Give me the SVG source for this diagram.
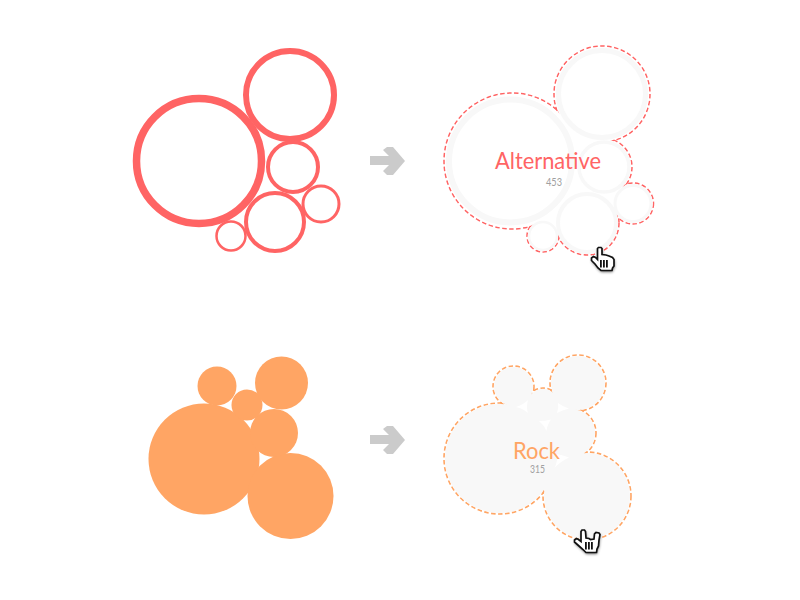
<svg xmlns="http://www.w3.org/2000/svg" width="800" height="600" viewBox="0 0 800 600">
<style>
.ring{fill:none;stroke:#ff6464}
.solid{fill:#ffa564}
.dr{fill:none;stroke:#ff6464;stroke-width:1.500;stroke-dasharray:4.500 2.500}
.do{fill:none;stroke:#ffa564;stroke-width:1.600;stroke-dasharray:4.500 2.500}
.cw{fill:#fff}
.cg{fill:#f8f8f8}
.g{fill:none;stroke:#f8f8f8}
.arrow{fill:#cbcbcb}
.t{font-family:"Lato","Open Sans","Liberation Sans",sans-serif;font-weight:400}
.n{font-size:10.500px;fill:#a0a0a0}
.hand{fill:#fff;stroke:#111;stroke-width:1.700;stroke-linejoin:miter}
.bar{fill:#111}
</style>
<defs>
<filter id="sh" x="-30%" y="-30%" width="160%" height="160%"><feGaussianBlur stdDeviation="1.500"/></filter>
<path id="h1p" d="M597.500 248.500L598.500 247.500L601 247.500L602 248.500L602 254.500L606 255L609 256L612.500 257.500L614 259.500L614 266L612.500 268L612 270.500L601 270.500L598 268L595 264L591.500 260.500L591.500 258L593.500 256.500L595.500 257.500L597.500 259.500Z"/>
<path id="h2p" d="M581 531.500L582 530L584.500 530L585.500 531.500L586 538L589 538.500L590.500 539.500L594 539L594.500 534L596 532.500L599 533L600 534.500L599 540L598.500 546L597 549L596.500 552.500L586 552.500L583 549.500L579 546L574.500 542L574.500 540L576.500 538.500L578.500 539.500L581 541.500Z"/>
</defs>

<g id="alt-before">
<circle class="ring" cx="199" cy="161" r="62.500" stroke-width="7.500"/>
<circle class="ring" cx="290" cy="95" r="44" stroke-width="6"/>
<circle class="ring" cx="293" cy="167" r="25" stroke-width="4"/>
<circle class="ring" cx="275" cy="222" r="29" stroke-width="4"/>
<circle class="ring" cx="321" cy="204" r="18" stroke-width="3"/>
<circle class="ring" cx="231" cy="236" r="14.500" stroke-width="2.500"/>
</g>

<g id="connectors">
<path id="arrow1" class="arrow" d="M370 156H389L383 150L387 147L393 147L405 161L393 175L387 175L383 171L389 165H370Z"/>
<path id="arrow2" class="arrow" d="M370 435H389L383 429L387 426L393 426L405 440L393 454L387 454L383 450L389 444H370Z"/>
</g>

<g id="alt-after">
<circle class="dr" cx="512" cy="161" r="68"/>
<circle class="dr" cx="602" cy="94" r="48"/>
<circle class="dr" cx="603" cy="167" r="29"/>
<circle class="dr" cx="633" cy="203.500" r="20.500"/>
<circle class="dr" cx="587" cy="223" r="32"/>
<circle class="dr" cx="543" cy="236" r="16"/>
<path class="cw" d="M512 161L602 94L603 167L633 203.500L587 223L543 236Z"/>
<circle class="cw" cx="512" cy="161" r="67"/>
<circle class="cw" cx="602" cy="94" r="47"/>
<circle class="cw" cx="603" cy="167" r="28"/>
<circle class="cw" cx="633" cy="203.500" r="19.500"/>
<circle class="cw" cx="587" cy="223" r="31"/>
<circle class="cw" cx="543" cy="236" r="15"/>
<circle class="g" cx="510.500" cy="161" r="61.500" stroke-width="6"/>
<circle class="g" cx="602" cy="94" r="43.500" stroke-width="5"/>
<circle class="g" cx="604" cy="167" r="25" stroke-width="3.500"/>
<circle class="g" cx="633" cy="203.500" r="18" stroke-width="3"/>
<circle class="g" cx="587" cy="223" r="29" stroke-width="4"/>
<circle class="g" cx="543" cy="236" r="14" stroke-width="2.500"/>
<text class="t" x="495" y="169" font-size="24" fill="#ff6464" textLength="106" lengthAdjust="spacingAndGlyphs">Alternative</text>
<text class="t n" x="546" y="186" textLength="16" lengthAdjust="spacingAndGlyphs">453</text>
</g>

<g id="rock-before">
<circle class="solid" cx="204" cy="459" r="55.500"/>
<circle class="solid" cx="290.500" cy="496" r="43"/>
<circle class="solid" cx="274" cy="433" r="24"/>
<circle class="solid" cx="247" cy="405" r="15.500"/>
<circle class="solid" cx="217" cy="386" r="19.500"/>
<circle class="solid" cx="281.500" cy="383" r="26.500"/>
</g>

<g id="rock-after">
<circle class="do" cx="499.500" cy="458.500" r="55.500"/>
<circle class="do" cx="587" cy="496" r="44"/>
<circle class="do" cx="571" cy="433" r="25"/>
<circle class="do" cx="543" cy="405" r="17"/>
<circle class="do" cx="513.500" cy="386.500" r="20.500"/>
<circle class="do" cx="578" cy="383" r="28"/>
<path class="cg" d="M499.500 458.500L513.500 386.500L543 405L578 383L571 433L587 496Z"/>
<circle class="cg" cx="499.500" cy="458.500" r="54.500"/>
<circle class="cg" cx="587" cy="496" r="43"/>
<circle class="cg" cx="571" cy="433" r="24"/>
<circle class="cg" cx="543" cy="405" r="16"/>
<circle class="cg" cx="513.500" cy="386.500" r="19.500"/>
<circle class="cg" cx="578" cy="383" r="27"/>
<path class="cw" d="M516 407Q523 405 528 400Q526 407 528 413Q522 408 516 407Z"/>
<path class="cw" d="M558 403Q563 407 569 408.500Q562 410 557 413Q559 408 558 403Z"/>
<path class="cw" d="M539 421Q545 421 551 419.500Q547 425 546.500 431Q544 425 539 421Z"/>
<path class="cw" d="M569 457.500Q563 455 557 454Q558 461 554.500 468Q561 461 569 457.500Z"/>
<text class="t" x="513" y="458.500" font-size="24" fill="#ffa564" textLength="47" lengthAdjust="spacingAndGlyphs">Rock</text>
<text class="t n" x="530" y="473" textLength="15" lengthAdjust="spacingAndGlyphs">315</text>
</g>

<g id="cursor-1">
<use href="#h1p" fill="#000" opacity="0.6" filter="url(#sh)" transform="translate(0.500 1.500)"/>
<use href="#h1p" class="hand"/>
<rect class="bar" x="600" y="260" width="1.800" height="7.500"/>
<rect class="bar" x="603" y="260" width="1.800" height="7.500"/>
<rect class="bar" x="606" y="260" width="1.800" height="7.500"/>
</g>

<g id="cursor-2">
<use href="#h2p" fill="#000" opacity="0.6" filter="url(#sh)" transform="translate(0.500 1.500)"/>
<use href="#h2p" class="hand"/>
<rect class="bar" x="585" y="542" width="1.800" height="7.500"/>
<rect class="bar" x="588" y="542" width="1.800" height="7.500"/>
<rect class="bar" x="591" y="542" width="1.800" height="7.500"/>
</g>
</svg>
